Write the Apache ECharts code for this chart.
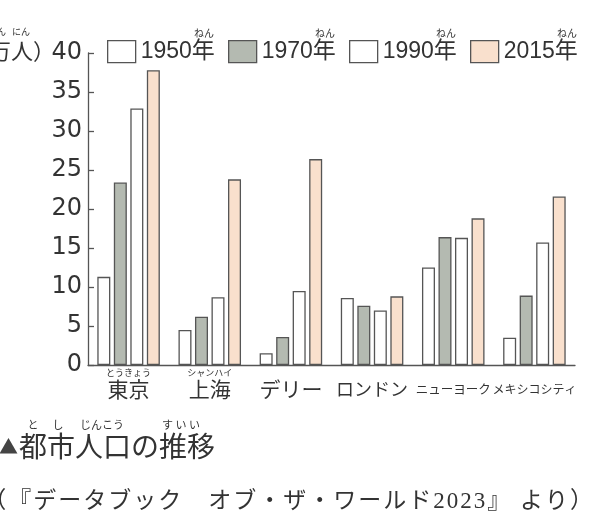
<!DOCTYPE html>
<html>
<head>
<meta charset="utf-8">
<script src="https://cdn.jsdelivr.net/npm/echarts@6/dist/echarts.min.js"></script>
<style>
  html, body { margin: 0; padding: 0; background: #ffffff; }
  #chart { width: 590px; height: 529px; }
</style>
</head>
<body>
<div id="chart"></div>
<script>
const categories = ['東京', '上海', 'デリー', 'ロンドン', 'ニューヨーク', 'メキシコシティ'];
const categoryRuby = ['とうきょう', 'シャンハイ', '', '', '', ''];
const years = ['1950年', '1970年', '1990年', '2015年'];
const pop1950 = [11.3, 4.5, 1.5, 8.6, 12.5, 3.5];
const pop1970 = [23.4, 6.2, 3.6, 7.6, 16.4, 8.9];
const pop1990 = [32.9, 8.7, 9.5, 7.0, 16.3, 15.7];
const pop2015 = [37.8, 23.8, 26.4, 8.8, 18.8, 21.6];
const yTicks = [0, 5, 10, 15, 20, 25, 30, 35, 40];
const sourceText = '（『データブック　オブ・ザ・ワールド2023』 より）';

const seriesValues = [pop1950, pop1970, pop1990, pop2015];
const fills = ['#ffffff', '#b4bab1', '#ffffff', '#f9e0cd'];
const sans = '"Liberation Sans", "Noto Sans CJK JP", sans-serif';
const jp = '"Noto Sans CJK JP", sans-serif';
const serifJp = '"Liberation Serif", "Noto Sans CJK JP", serif';
const ink = '#333333';
const edge = '#555555';

const labelStyleKey = ['m', 'm', 'm', 'l', 's', 't'];

const chart = echarts.init(document.getElementById('chart'));
const legendLeft = [107, 228, 349, 470];

const option = {
  animation: false,
  backgroundColor: '#ffffff',
  grid: { left: 88, right: 15, top: 53, bottom: 164, containLabel: false },
  legend: years.map((y, i) => ({
    data: [y],
    left: legendLeft[i],
    top: 40,
    padding: 0,
    itemGap: 0,
    itemWidth: 28,
    itemHeight: 22,
    icon: 'rect',
    selectedMode: false,
    itemStyle: { borderColor: edge, borderWidth: 1.3 },
    textStyle: { fontSize: 23, color: ink, fontFamily: sans }
  })),
  xAxis: {
    type: 'category',
    data: categories,
    axisTick: { show: false },
    axisLine: { lineStyle: { color: edge, width: 1.3 } },
    axisLabel: {
      interval: 0,
      margin: 3,
      color: ink,
      fontFamily: jp,
      formatter: function (val, idx) {
        const r = categoryRuby[idx] ? categoryRuby[idx] : ' ';
        return '{f|' + r + '}\n{' + labelStyleKey[idx] + '|' + val + '}';
      },
      rich: {
        f: { fontSize: 9, lineHeight: 10, fontFamily: jp, color: ink },
        m: { fontSize: 21, lineHeight: 22, fontFamily: jp, color: ink },
        l: { fontSize: 18, lineHeight: 22, fontFamily: jp, color: ink },
        s: { fontSize: 12.5, lineHeight: 22, fontFamily: jp, color: ink },
        t: { fontSize: 12, lineHeight: 22, fontFamily: jp, color: ink }
      }
    }
  },
  yAxis: {
    type: 'value',
    min: yTicks[0],
    max: yTicks[yTicks.length - 1],
    interval: yTicks[1] - yTicks[0],
    splitLine: { show: false },
    axisLine: { show: true, lineStyle: { color: edge, width: 1.3 } },
    axisTick: { show: true, inside: true, length: 6, lineStyle: { color: edge, width: 1.3 } },
    axisLabel: { fontSize: 24, color: ink, fontFamily: '"DejaVu Sans", sans-serif', margin: 6 }
  },
  series: years.map((y, i) => ({
    name: y,
    type: 'bar',
    data: seriesValues[i],
    barWidth: 13,
    barGap: '27%',
    itemStyle: { color: fills[i], borderColor: edge, borderWidth: 1.3 }
  })),
  graphic: [
    { type: 'text', left: -12, top: 27, style: { text: 'まん', fill: ink, font: '9px ' + jp } },
    { type: 'text', left: 12, top: 27, style: { text: 'にん', fill: ink, font: '9px ' + jp } },
    { type: 'text', x: 55, y: 51, style: { text: '（万人）', textAlign: 'right', textVerticalAlign: 'middle', fill: ink, font: '22px ' + jp } },
    { type: 'text', x: 204, y: 33, style: { text: 'ねん', textAlign: 'center', textVerticalAlign: 'middle', fill: ink, font: '10px ' + jp } },
    { type: 'text', x: 325, y: 33, style: { text: 'ねん', textAlign: 'center', textVerticalAlign: 'middle', fill: ink, font: '10px ' + jp } },
    { type: 'text', x: 446, y: 33, style: { text: 'ねん', textAlign: 'center', textVerticalAlign: 'middle', fill: ink, font: '10px ' + jp } },
    { type: 'text', x: 567, y: 33, style: { text: 'ねん', textAlign: 'center', textVerticalAlign: 'middle', fill: ink, font: '10px ' + jp } },
    { type: 'text', x: -1, y: 447, style: { text: '▲', textVerticalAlign: 'middle', fill: '#444', font: '19px ' + jp } },
    { type: 'text', x: 19, y: 446, style: { text: '都市人口の推移', textVerticalAlign: 'middle', fill: ink, font: '28px ' + jp } },
    { type: 'text', x: 33, y: 425, style: { text: 'と', textAlign: 'center', textVerticalAlign: 'middle', fill: ink, font: '11px ' + jp } },
    { type: 'text', x: 58, y: 425, style: { text: 'し', textAlign: 'center', textVerticalAlign: 'middle', fill: ink, font: '11px ' + jp } },
    { type: 'text', x: 102, y: 425, style: { text: 'じんこう', textAlign: 'center', textVerticalAlign: 'middle', fill: ink, font: '11px ' + jp } },
    { type: 'text', x: 181, y: 425, style: { text: 'す い い', textAlign: 'center', textVerticalAlign: 'middle', fill: ink, font: '11px ' + jp } },
    {
      type: 'text', x: 594, y: 502,
      style: {
        text: Array.from(sourceText).map(ch => '{c|' + ch + '}').join(''),
        textAlign: 'right', textVerticalAlign: 'middle',
        rich: { c: { fontSize: 23, fontFamily: serifJp, fill: ink, padding: [0, 1, 0, 1] } }
      }
    }
  ]
};
chart.setOption(option);
</script>
</body>
</html>
